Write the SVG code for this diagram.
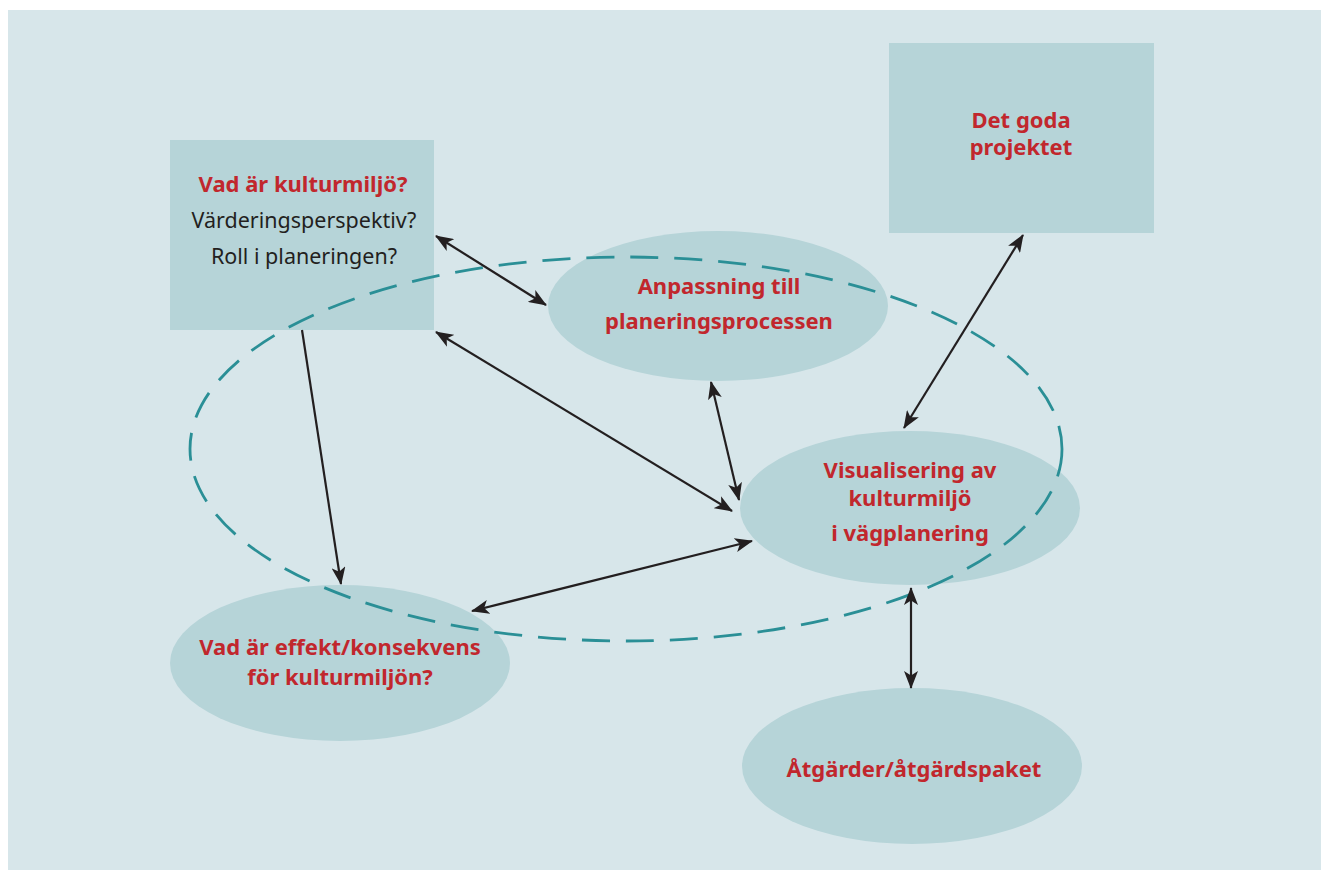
<svg xmlns="http://www.w3.org/2000/svg" width="1321" height="870" viewBox="0 0 1321 870">
<style>
.node{fill:#b6d4d8}
.t{font-family:"Noto Sans","Liberation Sans",sans-serif;text-anchor:middle}
.r{fill:#c1272d;font-weight:bold;font-size:22px}
.k{fill:#231f20;font-size:21.5px}
.c{stroke:#231f20;stroke-width:2.2;fill:none}
</style>
<defs>
<marker id="ah" viewBox="0 0 18 14" refX="17" refY="7" markerWidth="18" markerHeight="14" markerUnits="userSpaceOnUse" orient="auto-start-reverse">
<path d="M0,0 L18,7 L0,14 L4.5,7 z" fill="#231f20"/>
</marker>
</defs>
<rect x="8" y="10" width="1313" height="860" fill="#d7e6ea"/>
<g id="n-kulturmiljo">
<rect class="node" x="170" y="140" width="264" height="190"/>
<text class="t r" x="303" y="192">Vad är kulturmiljö?</text>
<text class="t k" x="304" y="228">Värderingsperspektiv?</text>
<text class="t k" x="304" y="264">Roll i planeringen?</text>
</g>
<g id="n-detgoda">
<rect class="node" x="889" y="43" width="265" height="190"/>
<text class="t r" x="1021" y="128">Det goda</text>
<text class="t r" x="1021" y="155">projektet</text>
</g>
<g id="n-anpassning">
<ellipse class="node" cx="718" cy="306" rx="170" ry="75"/>
<text class="t r" x="719" y="294">Anpassning till</text>
<text class="t r" x="719" y="329">planeringsprocessen</text>
</g>
<g id="n-visualisering">
<ellipse class="node" cx="910" cy="508" rx="170" ry="77"/>
<text class="t r" x="910" y="478">Visualisering av</text>
<text class="t r" x="910" y="506">kulturmiljö</text>
<text class="t r" x="910" y="541">i vägplanering</text>
</g>
<g id="n-effekt">
<ellipse class="node" cx="340" cy="663" rx="170" ry="78"/>
<text class="t r" x="340" y="655">Vad är effekt/konsekvens</text>
<text class="t r" x="340" y="685">för kulturmiljön?</text>
</g>
<g id="n-atgarder">
<ellipse class="node" cx="912" cy="766" rx="170" ry="78"/>
<text class="t r" x="914" y="777">Åtgärder/åtgärdspaket</text>
</g>
<g id="boundary">
<ellipse cx="626" cy="449" rx="436" ry="192" fill="none" stroke="#2a8f96" stroke-width="2.8" stroke-dasharray="28,16"/>
</g>
<g id="connectors">
<line class="c" x1="436" y1="236" x2="546" y2="305" marker-start="url(#ah)" marker-end="url(#ah)"/>
<line class="c" x1="436" y1="332" x2="732" y2="511" marker-start="url(#ah)" marker-end="url(#ah)"/>
<line class="c" x1="711" y1="382" x2="739" y2="500" marker-start="url(#ah)" marker-end="url(#ah)"/>
<line class="c" x1="1023" y1="235" x2="904" y2="428" marker-start="url(#ah)" marker-end="url(#ah)"/>
<line class="c" x1="302" y1="330" x2="341" y2="584" marker-end="url(#ah)"/>
<line class="c" x1="472" y1="611" x2="752" y2="541" marker-start="url(#ah)" marker-end="url(#ah)"/>
<line class="c" x1="911" y1="588" x2="911" y2="688" marker-start="url(#ah)" marker-end="url(#ah)"/>
</g>
</svg>
